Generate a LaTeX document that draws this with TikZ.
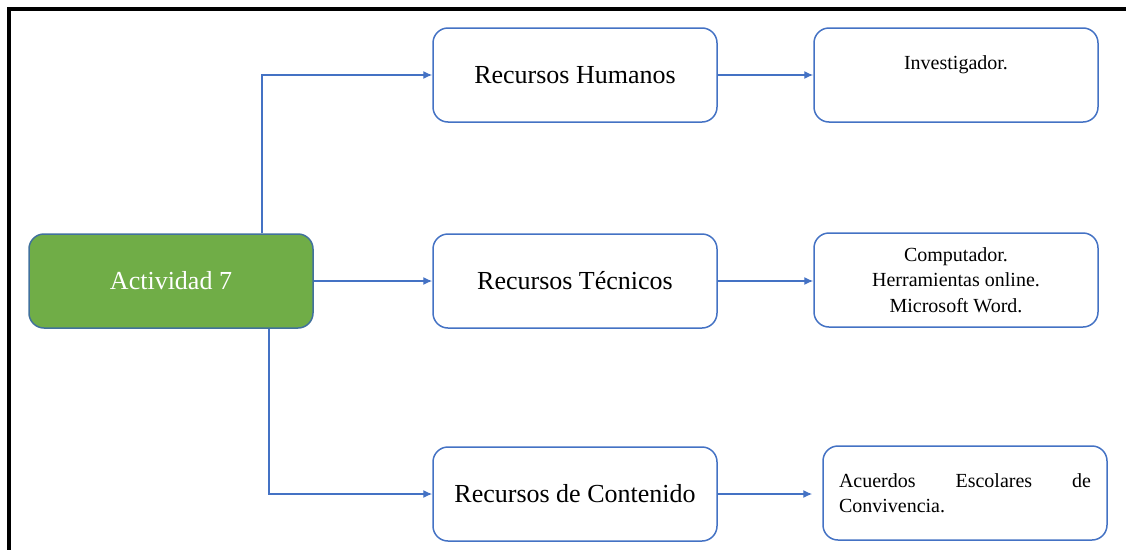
\documentclass[tikz,border=0pt]{standalone}
\usepackage{fontspec}
\setmainfont{Liberation Serif}
\usetikzlibrary{arrows.meta}
\definecolor{verdeact}{HTML}{70AD47}
\definecolor{bordeact}{HTML}{41719C}
\definecolor{azulcaja}{HTML}{4472C4}
\tikzset{
  mainbox/.style={draw=bordeact, fill=verdeact, text=white, line width=1.5pt, rounded corners=15pt,
    minimum width=284pt, minimum height=94pt, inner sep=0pt, font=\fontsize{26}{30}\selectfont},
  recbox/.style={draw=azulcaja, fill=white, line width=1.5pt, rounded corners=15pt,
    minimum width=284pt, minimum height=94pt, inner sep=0pt, font=\fontsize{26}{30}\selectfont},
  detbox/.style={recbox, align=center, font=\fontsize{20}{25.5}\selectfont},
  flecha/.style={draw=azulcaja, line width=1.4pt, -{Latex[length=9pt,width=8pt]}}
}
\begin{document}
\begin{tikzpicture}[x=1pt, y=-1pt]
  \useasboundingbox (0,0) rectangle (1126,549);
  % marco
  \draw[line width=4pt] (9,560) -- (9,9) -- (1140,9);
  % cajas
  \node[mainbox] (act) at (171,281) {Actividad 7};
  \node[recbox] (hum) at (575,75) {Recursos Humanos};
  \node[recbox] (tec) at (575,281) {Recursos Técnicos};
  \node[recbox] (con) at (575,494) {Recursos de Contenido};
  \node[detbox] (inv) at (956,75) {Investigador.\\\mbox{}};
  \node[detbox] (comp) at (956,280) {Computador.\\Herramientas online.\\Microsoft Word.};
  \node[detbox, align=left, text width=252pt] (acu) at (965,493) {Acuerdos\hfill Escolares\hfill de\\Convivencia.};
  % flechas
  \draw[flecha] ([xshift=91pt]act.north) |- (hum.west);
  \draw[flecha] (act.east) -- (tec.west);
  \draw[flecha] ([xshift=98pt]act.south) |- (con.west);
  \draw[flecha] (hum.east) -- (inv.west);
  \draw[flecha] (tec.east) -- (tec.east -| comp.west);
  \draw[flecha, shorten >=10pt] (con.east) -- (con.east -| acu.west);
\end{tikzpicture}
\end{document}
